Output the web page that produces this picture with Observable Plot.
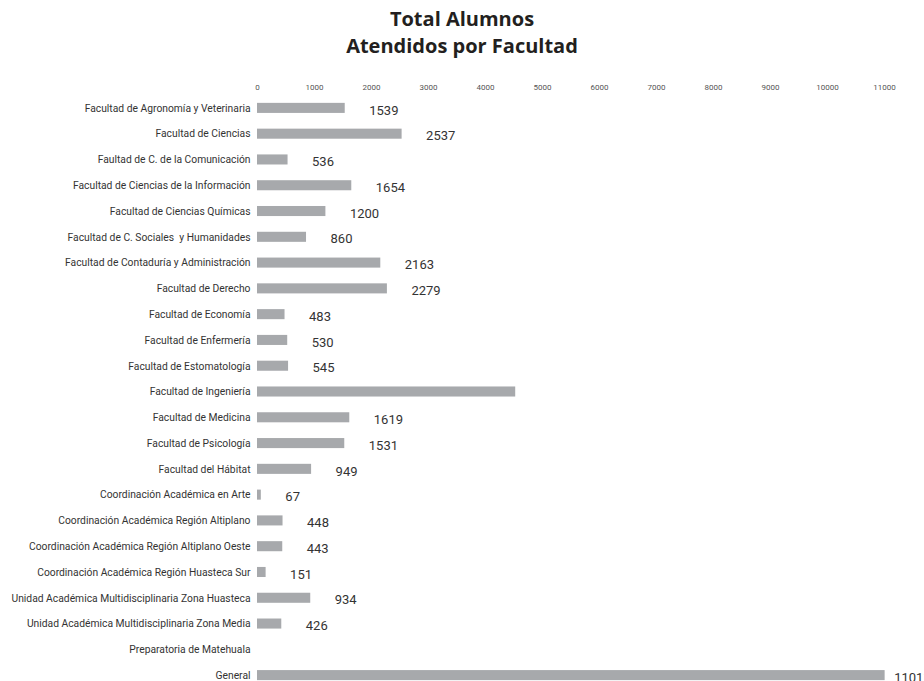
<!DOCTYPE html>
<html>
<head>
<meta charset="utf-8">
<script src="https://cdn.jsdelivr.net/npm/d3@7"></script>
<script src="https://cdn.jsdelivr.net/npm/@observablehq/plot@0.6"></script>
<style>
  html, body { margin: 0; padding: 0; background: #fff; overflow: hidden; }
  #title {
    font-family: "Open Sans", sans-serif;
    font-weight: 700;
    font-size: 20px;
    line-height: 27px;
    color: #231f20;
    text-align: center;
    padding-top: 5px;
    height: 54px;
  }
  #chart svg { display: block; }
</style>
</head>
<body>
<div id="title">Total Alumnos<br>Atendidos por Facultad</div>
<div id="chart"></div>
<script>
// Students served per school / academic unit
const categories = [
  "Facultad de Agronomía y Veterinaria",
  "Facultad de Ciencias",
  "Faultad de C. de la Comunicación",
  "Facultad de Ciencias de la Información",
  "Facultad de Ciencias Químicas",
  "Facultad de C. Sociales  y Humanidades",
  "Facultad de Contaduría y Administración",
  "Facultad de Derecho",
  "Facultad de Economía",
  "Facultad de Enfermería",
  "Facultad de Estomatología",
  "Facultad de Ingeniería",
  "Facultad de Medicina",
  "Facultad de Psicología",
  "Facultad del Hábitat",
  "Coordinación Académica en Arte",
  "Coordinación Académica Región Altiplano",
  "Coordinación Académica Región Altiplano Oeste",
  "Coordinación Académica Región Huasteca Sur",
  "Unidad Académica Multidisciplinaria Zona Huasteca",
  "Unidad Académica Multidisciplinaria Zona Media",
  "Preparatoria de Matehuala",
  "General"
];

const values = [
  1539, 2537, 536, 1654, 1200, 860, 2163, 2279, 483, 530, 545,
  4530, 1619, 1531, 949, 67, 448, 443, 151, 934, 426, null, 11011
];

// Rows whose value is not printed next to the bar
const unlabeled = ["Facultad de Ingeniería", "Preparatoria de Matehuala"];
// The total row gets its value printed close to the bar end
const totalRow = "General";

const xTicks = [0, 1000, 2000, 3000, 4000, 5000, 6000, 7000, 8000, 9000, 10000, 11000];

const data = categories.map((c, i) => ({category: c, value: values[i]}));
const barData = data.filter(d => d.value != null);
const labelData = barData.filter(d => !unlabeled.includes(d.category) && d.category !== totalRow);
const totalData = barData.filter(d => d.category === totalRow);

const chart = Plot.plot({
  width: 924,
  height: 640,
  marginLeft: 257,
  marginRight: 40,
  marginTop: 36,
  marginBottom: 11,
  style: {fontFamily: "Roboto, 'Liberation Sans', sans-serif", color: "#333"},
  x: {domain: [0, 11000]},
  y: {domain: categories, paddingInner: 0.61, paddingOuter: 0.305, round: false},
  marks: [
    Plot.axisX({
      anchor: "top",
      ticks: xTicks,
      tickSize: 0,
      tickPadding: 6,
      tickFormat: d => String(d),
      label: null,
      fontSize: 8,
      fill: "#555"
    }),
    Plot.axisY({
      anchor: "left",
      tickSize: 0,
      tickPadding: 7,
      label: null,
      fontSize: 10.3,
      fill: "#333"
    }),
    Plot.barX(barData, {x: "value", y: "category", fill: "#a7a9ac"}),
    Plot.text(labelData, {
      x: "value",
      y: "category",
      text: d => String(d.value),
      textAnchor: "start",
      dx: 24,
      dy: 2,
      fontSize: 13,
      fill: "#333"
    }),
    Plot.text(totalData, {
      x: "value",
      y: "category",
      text: d => String(d.value),
      textAnchor: "start",
      dx: 9,
      dy: 2,
      fontSize: 13,
      fill: "#333"
    })
  ]
});

document.getElementById("chart").appendChild(chart);
</script>
</body>
</html>
